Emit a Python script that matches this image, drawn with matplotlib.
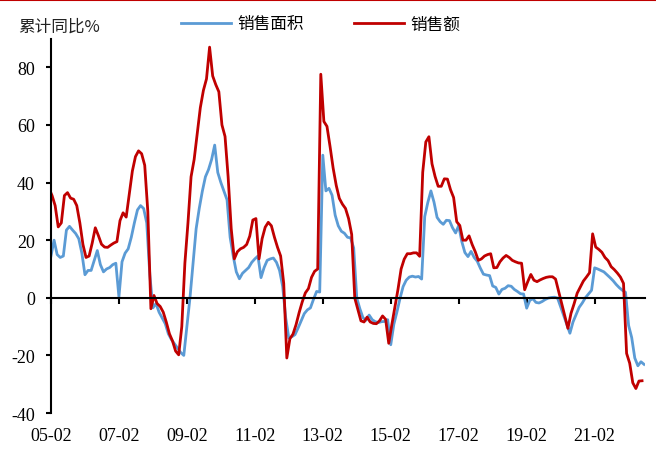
import numpy as np
import pandas as pd
import matplotlib
matplotlib.use("Agg")
import matplotlib.pyplot as plt
from matplotlib.lines import Line2D

nan = np.nan

# categories: Feb..Dec each year (Jan is merged into Feb), 2005-02 .. 2022-07
years = list(range(2005, 2023))
months = list(range(2, 13))
dates = [f"{y % 100:02d}-{m:02d}" for y in years for m in months][:193]

# 销售面积 累计同比 (%)
area_05_12 = [
    14.5, 20.0, 15.0, 14.0, 14.5, 23.5, 24.8, 23.5, 22.3, 20.5, 15.5,
    8.0, 9.5, 9.5, 13.0, 16.4, 11.5, 9.0, 10.0, 10.5, 11.5, 12.0,
    0.3, 12.5, 15.5, 17.0, 21.0, 26.0, 30.5, 32.0, 31.0, 26.0, 8.0,
    -3.5, -2.0, -5.0, -7.0, -9.0, -12.5, -14.5, -16.0, -17.5, -19.0, -20.0,
    -10.0, 0.0, 12.0, 24.0, 31.0, 37.0, 42.0, 44.5, 48.0, 53.0, 43.5,
    40.0, 37.0, 34.0, 21.0, 14.5, 9.0, 6.6, 8.5, 9.5, 10.5, 12.3,
    13.5, 14.5, 7.0, 10.5, 13.0, 13.5, 13.8, 12.3, 9.5, 4.0, -7.0,
    -14.0, -13.5, -12.8, -10.5, -8.0, -5.5, -4.2, -3.5, -0.5, 2.2, 2.0,
]
area_13_22 = [
    49.5, 37.1, 38.0, 35.6, 28.7, 25.0, 23.1, 22.4, 21.0, 20.8, 17.3,
    -0.1, -3.8, -6.9, -7.8, -6.0, -7.6, -8.3, -8.6, -8.3, -8.2, -7.6,
    -16.3, -9.2, -4.9, -0.2, 3.9, 6.1, 7.2, 7.5, 7.2, 7.4, 6.5,
    28.2, 33.1, 37.1, 33.2, 27.9, 26.4, 25.5, 26.9, 26.8, 24.3, 22.5,
    25.1, 19.5, 15.7, 14.3, 16.1, 14.0, 12.7, 10.3, 8.2, 7.9, 7.7,
    4.1, 3.6, 1.3, 2.9, 3.3, 4.2, 4.0, 2.9, 2.2, 1.4, 1.3,
    -3.6, -0.9, -0.3, -1.6, -1.8, -1.3, -0.6, -0.1, 0.1, 0.2, -0.1,
    nan, nan, nan, -12.3, -8.4, -5.8, -3.3, -1.8, 0.0, 1.3, 2.6,
    10.4, 10.0, 9.5, 9.0, 8.0, 7.0, 5.9, 4.6, 3.5, 2.6, 1.9,
    -9.6, -13.8, -20.9, -23.6, -22.2, -23.1,
]

# 销售额 累计同比 (%)
sales_05_12 = [
    38.0, 35.5, 32.0, 24.6, 26.0, 35.5, 36.5, 34.6, 34.2, 32.0, 26.0,
    18.5, 14.0, 14.5, 19.0, 24.3, 21.6, 18.6, 17.6, 17.5, 18.3, 19.0,
    19.5, 26.8, 29.5, 28.0, 36.0, 44.0, 49.0, 51.0, 50.0, 46.0, 30.0,
    -3.8, 0.8, -2.0, -3.0, -5.0, -8.5, -12.5, -15.0, -18.5, -19.8, -10.0,
    12.0, 26.0, 42.0, 48.0, 57.0, 66.0, 72.0, 76.0, 87.0, 77.0, 74.0,
    71.5, 60.0, 56.0, 42.0, 24.0, 13.5, 16.0, 17.0, 17.5, 18.5, 21.4,
    27.0, 27.5, 13.5, 20.5, 24.5, 26.2, 25.0, 21.0, 17.5, 14.5, 5.0,
    -20.9, -14.2, -12.6, -9.3, -5.1, -1.4, 1.7, 3.2, 7.1, 9.2, 10.0,
]
sales_13_22 = [
    77.6, 61.2, 59.5, 52.5, 45.0, 39.0, 34.5, 32.5, 31.0, 27.5, 22.0,
    -0.1, -4.0, -8.0, -8.4, -6.7, -8.4, -8.9, -9.0, -8.0, -6.3, -7.5,
    -15.8, -9.3, -3.2, 3.0, 10.0, 13.4, 15.3, 15.3, 15.6, 15.6, 14.4,
    43.6, 54.1, 55.9, 46.5, 42.1, 38.7, 38.7, 41.3, 41.2, 37.5, 34.8,
    26.4, 25.1, 20.0, 20.0, 21.5, 18.5, 16.0, 13.0, 13.5, 14.5, 15.0,
    15.3, 10.4, 10.5, 12.5, 13.8, 14.7, 14.0, 13.0, 12.5, 12.1, 12.0,
    2.8, 5.6, 8.1, 6.1, 5.6, 6.2, 6.7, 7.1, 7.3, 7.3, 6.5,
    nan, nan, nan, -10.6, -5.4, -2.1, 1.6, 3.7, 5.8, 7.2, 8.7,
    22.2, 17.6, 16.8, 15.8, 14.0, 12.9, 10.8, 9.8, 8.6, 7.2, 5.0,
    -19.3, -22.7, -29.5, -31.5, -28.9, -28.8,
]

area = area_05_12 + area_13_22
sales = sales_05_12 + sales_13_22
tick_labels = ["05-02", "07-02", "09-02", "11-02", "13-02",
               "15-02", "17-02", "19-02", "21-02"]

blue = "#5B9BD5"
red = "#C00000"
red_offset = -0.65  # the red series sits slightly left in the original chart
num_font = "Liberation Serif"
cjk_font = "Noto Sans CJK SC"

idx = np.arange(len(dates))
s_area = pd.Series(area, index=idx).dropna()
s_sales = pd.Series(sales, index=idx + red_offset).dropna()
tick_pos = [dates.index(t) for t in tick_labels]

plt.rcParams["font.family"] = [num_font, cjk_font]
plt.rcParams["axes.unicode_minus"] = False

fig = plt.figure(figsize=(6.56, 4.52), dpi=100)
ax = fig.add_axes([0.0777, 0.084, 0.9055, 0.8286])

ax.plot(s_area.index, s_area.values, color=blue, lw=2.0, label="销售面积")
ax.plot(s_sales.index, s_sales.values, color=red, lw=2.0, label="销售额")

ax.set_xlim(0, 192.3)
ax.set_ylim(-40, 90)
ax.set_yticks(range(-40, 81, 20))
ax.spines[["top", "right"]].set_visible(False)
ax.spines["bottom"].set_position(("data", 0))
ax.spines["left"].set_linewidth(1.5)
ax.spines["bottom"].set_linewidth(1.5)
ax.set_xticks(tick_pos)
ax.tick_params(axis="x", direction="out", length=4, width=1.5, labelbottom=False)
ax.tick_params(axis="y", direction="out", length=3.5, width=1.5, labelsize=13, pad=8)

sec = ax.secondary_xaxis(0.0)
sec.set_xticks(tick_pos, tick_labels)
sec.tick_params(length=0, labelsize=13, pad=10)
sec.spines["bottom"].set_visible(False)

fig.text(18 / 656, 1 - 27 / 452, "累计同比%", fontsize=12,
         family=[cjk_font], va="center", ha="left", color="#222222")

fig.legend(loc="center left", bbox_to_anchor=(181 / 656, 1 - 25 / 452), ncol=2,
           frameon=False, prop={"family": cjk_font, "size": 12},
           handlelength=3.0, handletextpad=0.4, columnspacing=3.0,
           borderpad=0, borderaxespad=0)

fig.add_artist(Line2D([0, 1], [0.998, 0.998], transform=fig.transFigure,
                      color=red, lw=1.5))

fig.savefig("out.png", dpi=100)
